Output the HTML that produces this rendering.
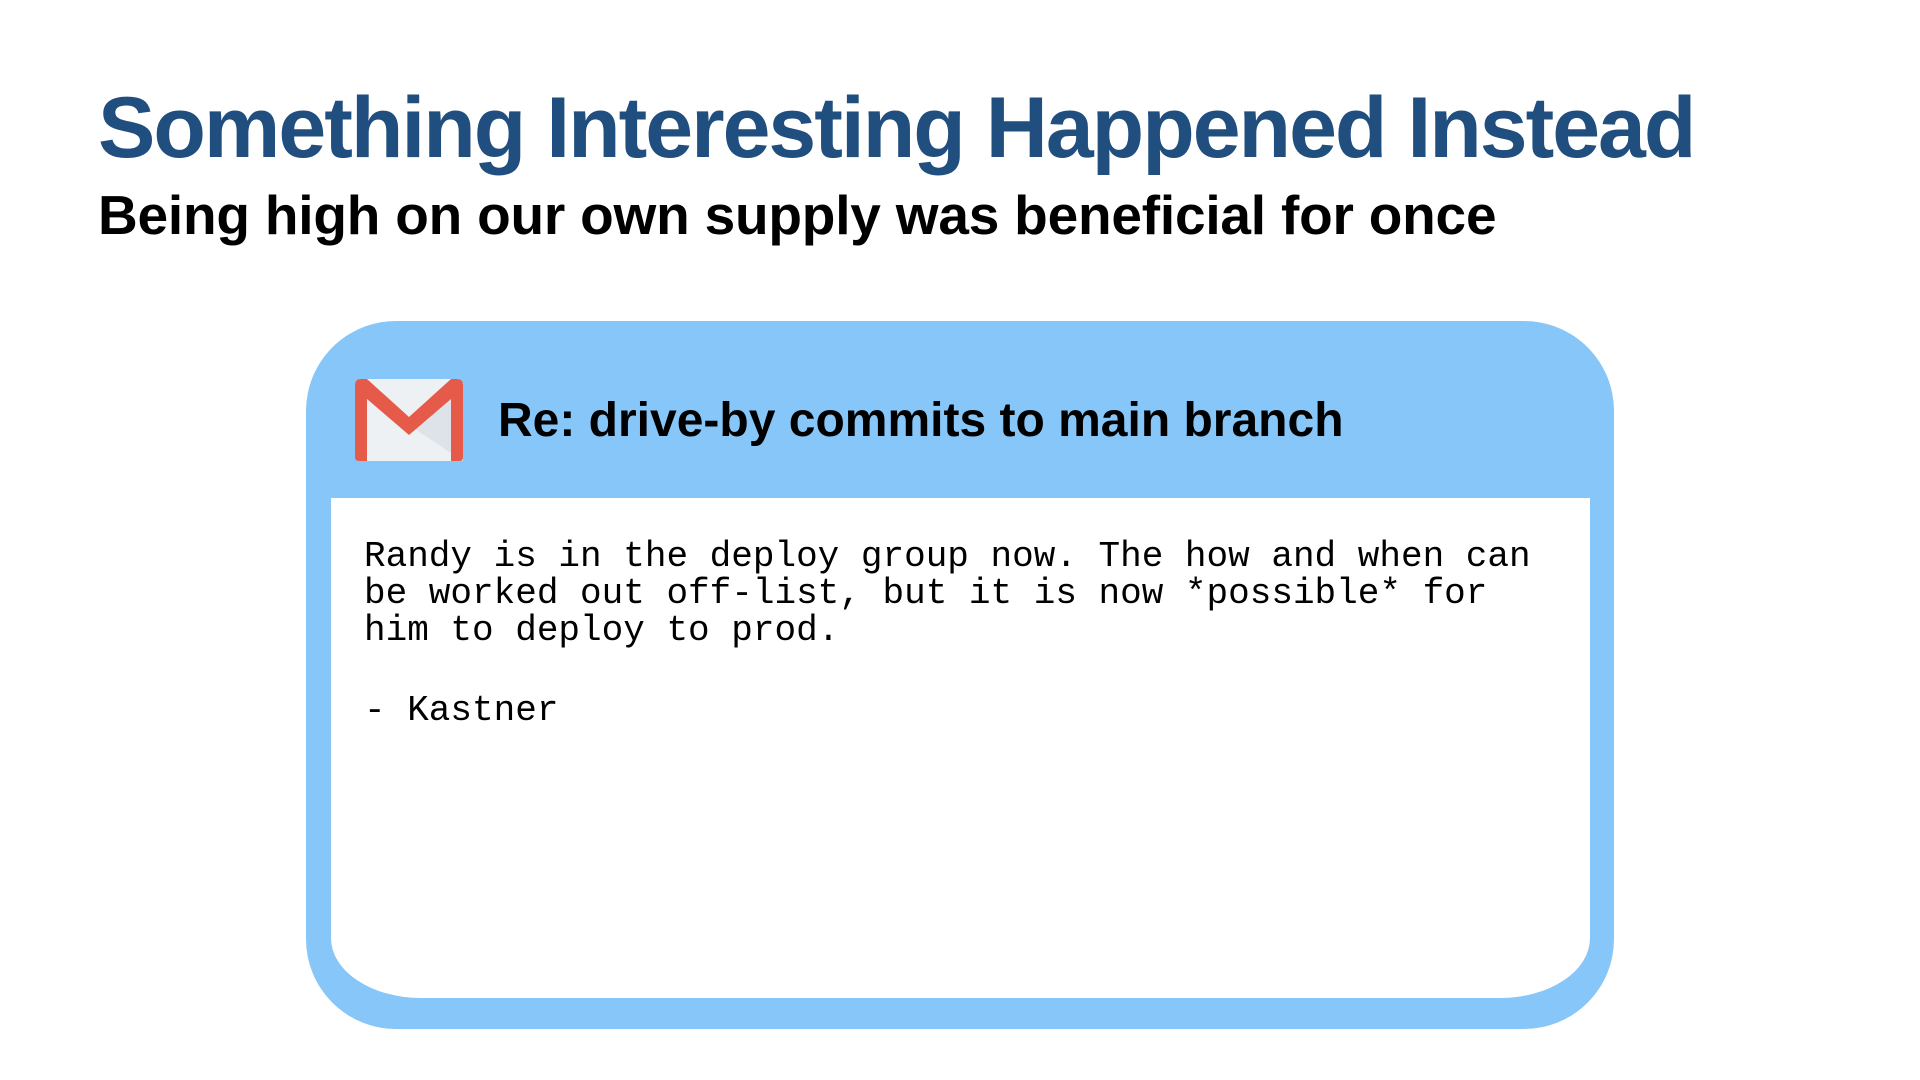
<!DOCTYPE html>
<html>
<head>
<meta charset="utf-8">
<style>
  html,body{margin:0;padding:0;background:#fff;}
  body{width:1920px;height:1080px;position:relative;overflow:hidden;font-family:"Liberation Sans",sans-serif;}
  .title{position:absolute;left:98px;top:85px;font-size:86px;font-weight:bold;color:#1f4e7f;letter-spacing:-2px;white-space:nowrap;line-height:1;}
  .subtitle{position:absolute;left:98px;top:188px;font-size:55px;font-weight:bold;color:#000;white-space:nowrap;line-height:1;letter-spacing:-0.2px;}
  .frame{position:absolute;left:306px;top:321px;width:1308px;height:708px;background:#87c6f8;border-radius:90px;}
  .body{position:absolute;left:331px;top:498px;width:1259px;height:500px;background:#fff;border-radius:0 0 90px 90px / 0 0 60px 60px;}
  .subject{position:absolute;left:498px;top:397px;font-size:48px;font-weight:bold;color:#000;white-space:nowrap;line-height:1;}
  .msg{position:absolute;left:364px;top:538px;font-family:"Liberation Mono",monospace;font-size:36px;line-height:37px;color:#000;white-space:pre;}
  .sig{position:absolute;left:364px;top:692px;font-family:"Liberation Mono",monospace;font-size:36px;line-height:37px;color:#000;white-space:pre;}
</style>
</head>
<body>
<div class="title">Something Interesting Happened Instead</div>
<div class="subtitle">Being high on our own supply was beneficial for once</div>
<div class="frame"></div>
<div class="body"></div>
<svg style="position:absolute;left:353px;top:377px" width="112" height="86" viewBox="0 0 112 86">
  <rect x="2" y="2" width="108" height="82" rx="6" fill="#eef1f4"/>
  <polygon points="56,48 110,84 110,10" fill="#dde3e8"/>
  <path d="M2,8 Q2,2 8,2 L14,2 L56,40 L98,2 L104,2 Q110,2 110,8 L110,80 Q110,84 106,84 L98,84 L98,22 L56,58 L14,22 L14,84 L6,84 Q2,84 2,80 Z" fill="#e65a4a"/>
</svg>
<div class="subject">Re: drive-by commits to main branch</div>
<div class="msg">Randy is in the deploy group now. The how and when can
be worked out off-list, but it is now *possible* for
him to deploy to prod.</div>
<div class="sig">- Kastner</div>
</body>
</html>
